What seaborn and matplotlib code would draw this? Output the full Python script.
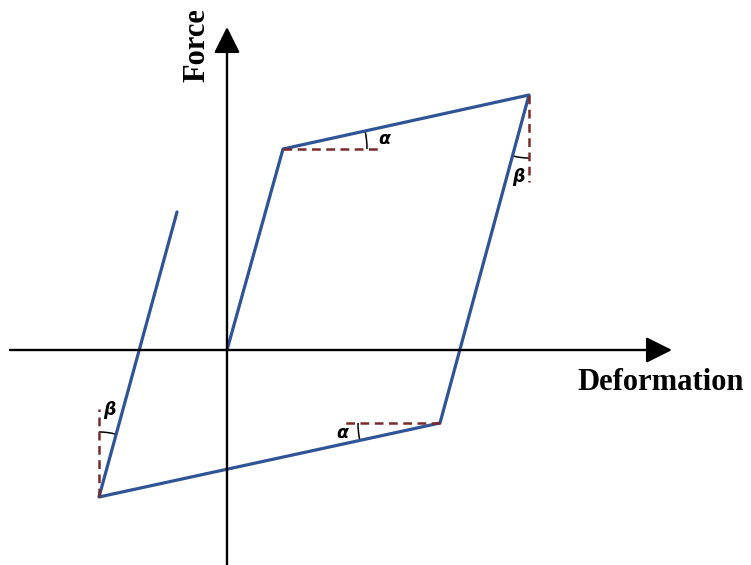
import numpy as np
import pandas as pd
import matplotlib
matplotlib.use("Agg")
import matplotlib.pyplot as plt
import seaborn as sns
from matplotlib.patches import Arc

# loading path of the bilinear hysteresis loop (arbitrary units)
deformation = [0, 56, 302, 213, -128, -50]
force = [0, 201, 255, -73, -147, 138]
step = ["O", "A", "B", "C", "D", "E"]

df = pd.DataFrame({"deformation": deformation, "force": force, "step": step})

sns.set_style("white")
plt.rcParams["font.family"] = ["DejaVu Sans"]

fig = plt.figure(figsize=(7.51, 5.65), dpi=100)
ax = fig.add_axes([0, 0, 1, 1])
ax.set_xlim(-227, 524)
ax.set_ylim(-215, 350)
ax.axis("off")

blue = "#2F5496"
red = "#7A2A2A"

# axes with arrows
head = "-|>,head_length=0.8,head_width=0.4"
ax.annotate("", xy=(445, 0), xytext=(-217, 0),
            arrowprops=dict(arrowstyle=head, mutation_scale=20, color="black",
                            lw=1.7, shrinkA=0, shrinkB=0))
ax.annotate("", xy=(0, 323), xytext=(0, -215),
            arrowprops=dict(arrowstyle=head, mutation_scale=20, color="black",
                            lw=1.7, shrinkA=0, shrinkB=0))

# the loop
sns.lineplot(data=df, x="deformation", y="force", sort=False, color=blue,
             lw=2.3, ax=ax, estimator=None)

# reference dashes at the corners
A, B, C, D = [(deformation[i], force[i]) for i in (1, 2, 3, 4)]
dash = dict(color=red, lw=1.8, ls=(0, (3.5, 2.2)))
ax.plot([A[0], A[0] + 97], [A[1], A[1]], **dash)
ax.plot([B[0], B[0]], [B[1], B[1] - 87], **dash)
ax.plot([C[0], C[0] - 99], [C[1], C[1]], **dash)
ax.plot([D[0], D[0]], [D[1], D[1] + 88], **dash)

def ang(p, q):
    return np.degrees(np.arctan2(q[1] - p[1], q[0] - p[0])) % 360

arc = dict(color="black", lw=1.1)
ax.add_patch(Arc(A, 168, 168, theta1=0, theta2=ang(A, B), **arc))
ax.add_patch(Arc(C, 164, 164, theta1=180, theta2=ang(C, D), **arc))
ax.add_patch(Arc(B, 126, 126, theta1=ang(B, C), theta2=270, **arc))
E = (deformation[5], force[5])
ax.add_patch(Arc(D, 130, 130, theta1=ang(D, E), theta2=90, **arc))

greek = dict(fontsize=12.5, fontstyle="italic", fontweight="bold", color="black",
             ha="center", va="center")
ax.text(157, 211, "α", **greek)
ax.text(291, 173, "β", **greek)
ax.text(115, -83, "α", **greek)
ax.text(-118, -60, "β", **greek)

lab = dict(family="Liberation Serif", fontweight="bold", fontsize=22, color="black",
           ha="center", va="center")
ax.text(-30, 305, "Force", rotation=90, **lab)
ax.text(434, -32, "Deformation", **lab)

fig.savefig("out.png", dpi=100)
